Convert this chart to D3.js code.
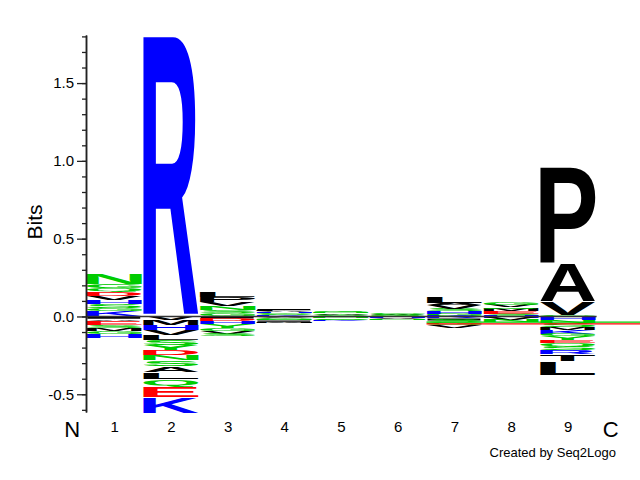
<!DOCTYPE html>
<html><head><meta charset="utf-8">
<script src="https://cdn.jsdelivr.net/npm/d3@7"></script>
<style>body{margin:0;background:#fff}svg{display:block}</style>
</head><body>
<script>
// ---------- data ----------
const positions = [1, 2, 3, 4, 5, 6, 7, 8, 9];
const positionLabels = ["1", "2", "3", "4", "5", "6", "7", "8", "9"];
const endLabels = ["N", "C"];
const yMajorTicks = [-0.5, 0.0, 0.5, 1.0, 1.5];
const yMinorTicks = [-0.6, -0.5, -0.4, -0.3, -0.2, -0.1, 0.0, 0.1, 0.2, 0.3, 0.4, 0.5, 0.6, 0.7, 0.8, 0.9,
                     1.0, 1.1, 1.2, 1.3, 1.4, 1.5, 1.6, 1.7, 1.8];
const yDomain = [-0.614, 1.809];

// letters stacked upward from zero (first = closest to zero), values in bits
const aboveZero = [
  [["K",0.035],["G",0.020],["S",0.022],["H",0.025],["V",0.030],["D",0.028],["Q",0.020],["G",0.026],["N",0.075]],
  [["R",1.805]],
  [["G",0.019],["S",0.019],["N",0.026],["V",0.026],["P",0.032],["L",0.032]],
  [["K",0.008],["S",0.006],["G",0.006],["H",0.008],["A",0.006],["L",0.008],["I",0.006]],
  [["S",0.006],["G",0.006],["A",0.008],["N",0.006],["Q",0.006]],
  [["Q",0.006],["W",0.006],["S",0.006],["G",0.005]],
  [["G",0.013],["H",0.019],["S",0.013],["V",0.026],["A",0.013],["L",0.045]],
  [["S",0.013],["E",0.019],["M",0.013],["Q",0.013],["V",0.013],["G",0.013]],
  [["G",0.006],["V",0.090],["A",0.251],["P",0.623]]
];
// letters stacked downward from zero (first = closest to zero), values in bits
const belowZero = [
  [["I",0.015],["A",0.012],["E",0.026],["S",0.020],["M",0.020],["G",0.018],["H",0.030]],
  [["V",0.026],["M",0.032],["H",0.032],["V",0.032],["L",0.032],["S",0.032],["Y",0.032],["D",0.032],
   ["N",0.032],["S",0.039],["A",0.039],["L",0.045],["Q",0.045],["E",0.071],["K",0.103]],
  [["I",0.013],["D",0.019],["H",0.019],["Y",0.026],["G",0.019],["V",0.019],["S",0.013]],
  [["V",0.008],["G",0.006],["S",0.006],["N",0.006],["I",0.008],["M",0.006]],
  [["H",0.006],["N",0.006],["S",0.008],["G",0.006],["K",0.006]],
  [["S",0.006],["H",0.006],["V",0.006],["N",0.005]],
  [["K",0.013],["I",0.013],["S",0.013],["G",0.019],["V",0.016]],
  [["H",0.013],["V",0.013],["N",0.013]],
  [["H",0.026],["N",0.019],["S",0.026],["M",0.019],["K",0.026],["G",0.013],["Y",0.026],["E",0.019],
   ["Q",0.019],["S",0.026],["R",0.026],["T",0.045],["L",0.090]]
];
// stray thin strokes starting at position 7 and running to the right edge
const strayStart = 7;
const strayLines = [["N", -0.037], ["E", -0.047]];

// ---------- styles ----------
const letterColors = {
  D:"#ff0000", E:"#ff0000",
  H:"#0000ff", K:"#0000ff", R:"#0000ff",
  A:"#000000", C:"#000000", F:"#000000", I:"#000000", L:"#000000", M:"#000000", P:"#000000", V:"#000000", W:"#000000", T:"#000000",
  G:"#00cc00", N:"#00cc00", Q:"#00cc00", S:"#00cc00", Y:"#00cc00"
};
const FONT = "'Liberation Sans', Arial, Helvetica, sans-serif";
const W = 640, H = 480;

const svg = d3.select("body").append("svg").attr("width", W).attr("height", H);

const x = d3.scaleBand().domain(positions).range([86.3, 596.6]).padding(0);
const y = d3.scaleLinear().domain(yDomain).range([412, 35]);

// glyph ink metrics
const ctx = document.createElement("canvas").getContext("2d");
const GS = 200;
ctx.font = `bold ${GS}px ${FONT}`;
const metricsCache = {};
function glyph(ch) {
  if (!metricsCache[ch]) {
    const m = ctx.measureText(ch);
    metricsCache[ch] = {l: m.actualBoundingBoxLeft, r: m.actualBoundingBoxRight,
                        a: m.actualBoundingBoxAscent, d: m.actualBoundingBoxDescent};
  }
  return metricsCache[ch];
}

const logo = svg.append("g");
function drawLetter(ch, bx, by, bw, bh) {
  if (bh <= 0.05) return;
  const g = glyph(ch);
  const gw = g.l + g.r, gh = g.a + g.d;
  logo.append("g")
    .attr("transform", `translate(${bx},${by}) scale(${bw / gw},${bh / gh})`)
    .append("text")
    .attr("x", g.l).attr("y", g.a)
    .attr("font-family", FONT).attr("font-weight", "bold").attr("font-size", GS)
    .attr("fill", letterColors[ch])
    .text(ch);
}

function drawStack(stack, pos, sign) {
  let cum = 0;
  const bx = x(pos) + 0.3, bw = x.bandwidth() - 1.6;
  stack.forEach(([ch, v]) => {
    const a = y(sign * cum), b = y(sign * (cum + v));
    const top = Math.min(a, b), bot = Math.max(a, b);
    const h = bot - top;
    const gap = Math.min(1.5, h * 0.08);
    drawLetter(ch, bx, top + gap / 2, bw, h - gap);
    cum += v;
  });
}
positions.forEach((p, i) => {
  drawStack(aboveZero[i], p, 1);
  drawStack(belowZero[i], p, -1);
});

// stray strokes
svg.append("g").selectAll("line").data(strayLines).join("line")
  .attr("x1", x(strayStart)).attr("x2", W)
  .attr("y1", d => y(d[1])).attr("y2", d => y(d[1]))
  .attr("stroke", d => letterColors[d[0]]).attr("stroke-width", 1.2);

// zero line
svg.append("line")
  .attr("x1", x(positions[0])).attr("x2", x(positions[positions.length - 1]) + x.bandwidth())
  .attr("y1", y(0)).attr("y2", y(0))
  .attr("stroke", "#333").attr("stroke-width", 1.5);

// y axis
const axisX = 86;
const minorAxis = svg.append("g").attr("transform", `translate(${axisX},0)`)
  .call(d3.axisLeft(y).tickValues(yMinorTicks).tickSize(4).tickSizeOuter(0).tickFormat(""));
const majorAxis = svg.append("g").attr("transform", `translate(${axisX},0)`)
  .call(d3.axisLeft(y).tickValues(yMajorTicks).tickSize(9).tickSizeOuter(0).tickPadding(3)
        .tickFormat(d => d.toFixed(1)));
[minorAxis, majorAxis].forEach(g => {
  g.selectAll("path.domain").attr("stroke", "#222").attr("stroke-width", 1.5);
  g.selectAll(".tick line").attr("stroke", "#222").attr("stroke-width", 1.3);
});
majorAxis.selectAll("text").attr("font-family", FONT).attr("font-size", 15).attr("fill", "#000");

svg.append("text")
  .attr("transform", `translate(42,222) rotate(-90)`)
  .attr("text-anchor", "middle")
  .attr("font-family", FONT).attr("font-size", 21).attr("fill", "#000")
  .text("Bits");

// x labels
svg.append("g").selectAll("text").data(positions).join("text")
  .attr("x", d => x(d) + x.bandwidth() / 2).attr("y", 432)
  .attr("text-anchor", "middle")
  .attr("font-family", FONT).attr("font-size", 15).attr("fill", "#000")
  .text((d, i) => positionLabels[i]);

const step = x.step();
svg.append("g").selectAll("text").data(endLabels).join("text")
  .attr("x", (d, i) => i === 0 ? x.range()[0] - step * 0.25 : x.range()[1] + step * 0.25)
  .attr("y", 437)
  .attr("text-anchor", "middle")
  .attr("font-family", FONT).attr("font-size", 22).attr("fill", "#000")
  .text(d => d);

svg.append("text")
  .attr("x", 616).attr("y", 457)
  .attr("text-anchor", "end")
  .attr("font-family", FONT).attr("font-size", 13).attr("fill", "#000")
  .text("Created by Seq2Logo");
</script>
</body></html>
